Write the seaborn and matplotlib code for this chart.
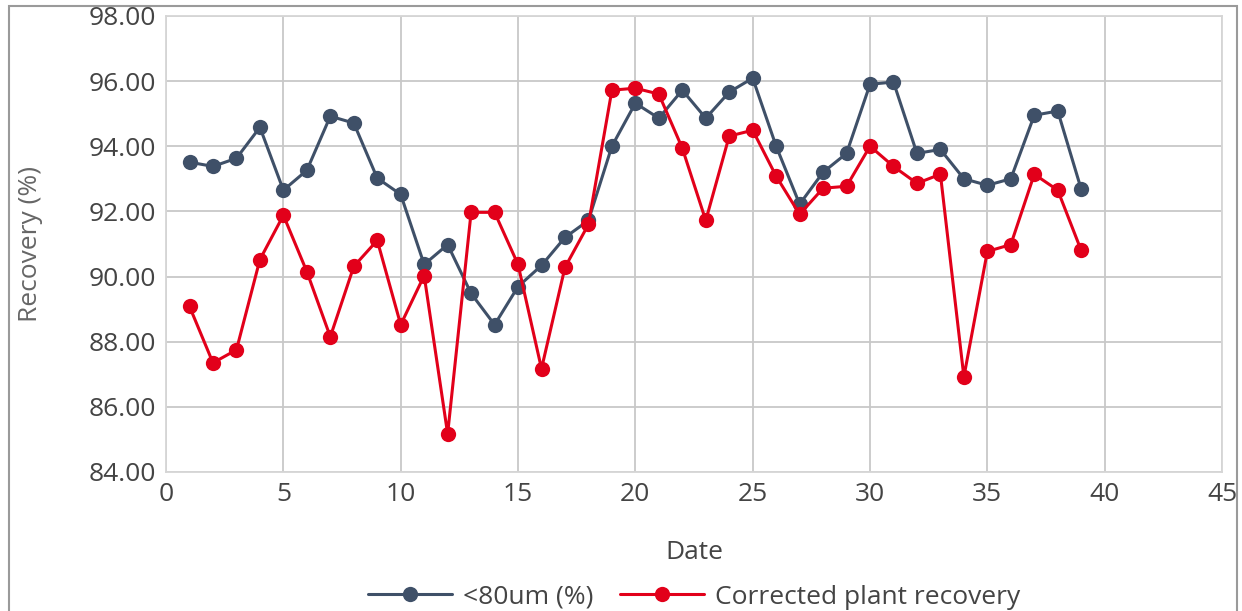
import pandas as pd
import seaborn as sns
import numpy as np
import matplotlib.pyplot as plt
from matplotlib.patches import Rectangle

# values
dates = list(range(1, 40))
fines_80um = [93.51, 93.38, 93.63, 94.58, 92.65, 93.26, 94.92, 94.71, 93.02, 92.52,
              90.37, 90.98, 89.48, 88.52, 89.69, 90.34, 91.20, 91.72, 94.00, 95.32,
              94.86, 95.72, 94.86, 95.66, 96.09, 94.00, 92.22, 93.20, 93.78, 95.90,
              95.97, 93.78, 93.90, 93.00, 92.80, 93.00, 94.95, 95.08, 92.68]
corrected_recovery = [89.08, 87.35, 87.75, 90.52, 91.88, 90.15, 88.15, 90.31, 91.11, 88.52,
                      90.03, 85.17, 91.97, 91.97, 90.37, 87.17, 90.28, 91.60, 95.72, 95.78,
                      95.60, 93.94, 91.72, 94.31, 94.49, 93.08, 91.91, 92.71, 92.77, 94.00,
                      93.38, 92.86, 93.14, 86.92, 90.77, 90.98, 93.14, 92.65, 90.80]
series_names = ['<80um (%)', 'Corrected plant recovery']
series_colors = ['#3f5068', '#e2001a']

df = pd.DataFrame({
    'Date': dates * 2,
    'Recovery': fines_80um + corrected_recovery,
    'Series': [series_names[0]] * len(dates) + [series_names[1]] * len(dates),
})

sns.set_style('white')
plt.rcParams['font.family'] = ['Open Sans', 'DejaVu Sans']

fig = plt.figure(figsize=(12.42, 6.11), dpi=100)
ax = fig.add_axes([0.1337, 0.2275, 0.8502, 0.7465])

sns.lineplot(data=df, x='Date', y='Recovery', hue='Series', palette=series_colors,
             marker='o', markersize=11, markeredgewidth=0, linewidth=2.2, ax=ax)

ax.set_xlim(0, 45)
ax.set_ylim(84, 98)
ax.set_xticks(np.arange(0, 46, 5))
ax.set_yticks(np.arange(84, 98.1, 2))
ax.yaxis.set_major_formatter(plt.FuncFormatter(lambda v, p: f'{v:.2f}'))
ax.grid(True, color='#c8c8c8', linewidth=1.3)
ax.set_axisbelow(True)
for s in ax.spines.values():
    s.set_color('#d6d6d6')
    s.set_linewidth(1.3)
ax.tick_params(axis='both', labelsize=19, colors='#444444', length=0, pad=7)

ax.set_xlabel('Date', fontsize=19, color='#444444', labelpad=24)
ax.set_ylabel('Recovery (%)', fontsize=19, color='#666666', labelpad=33)

ax.legend(loc='upper center', bbox_to_anchor=(0.5, -0.247), ncol=2, frameon=False,
          fontsize=19, handlelength=3.2, columnspacing=1.0, handletextpad=0.4,
          labelcolor='#444444', borderaxespad=0, borderpad=0)

fig.patches.append(Rectangle((0.007, -0.05), 0.989, 1.04, transform=fig.transFigure,
                             fill=False, edgecolor='#9a9a9a', linewidth=1.5))

fig.savefig('out.png', dpi=100)
